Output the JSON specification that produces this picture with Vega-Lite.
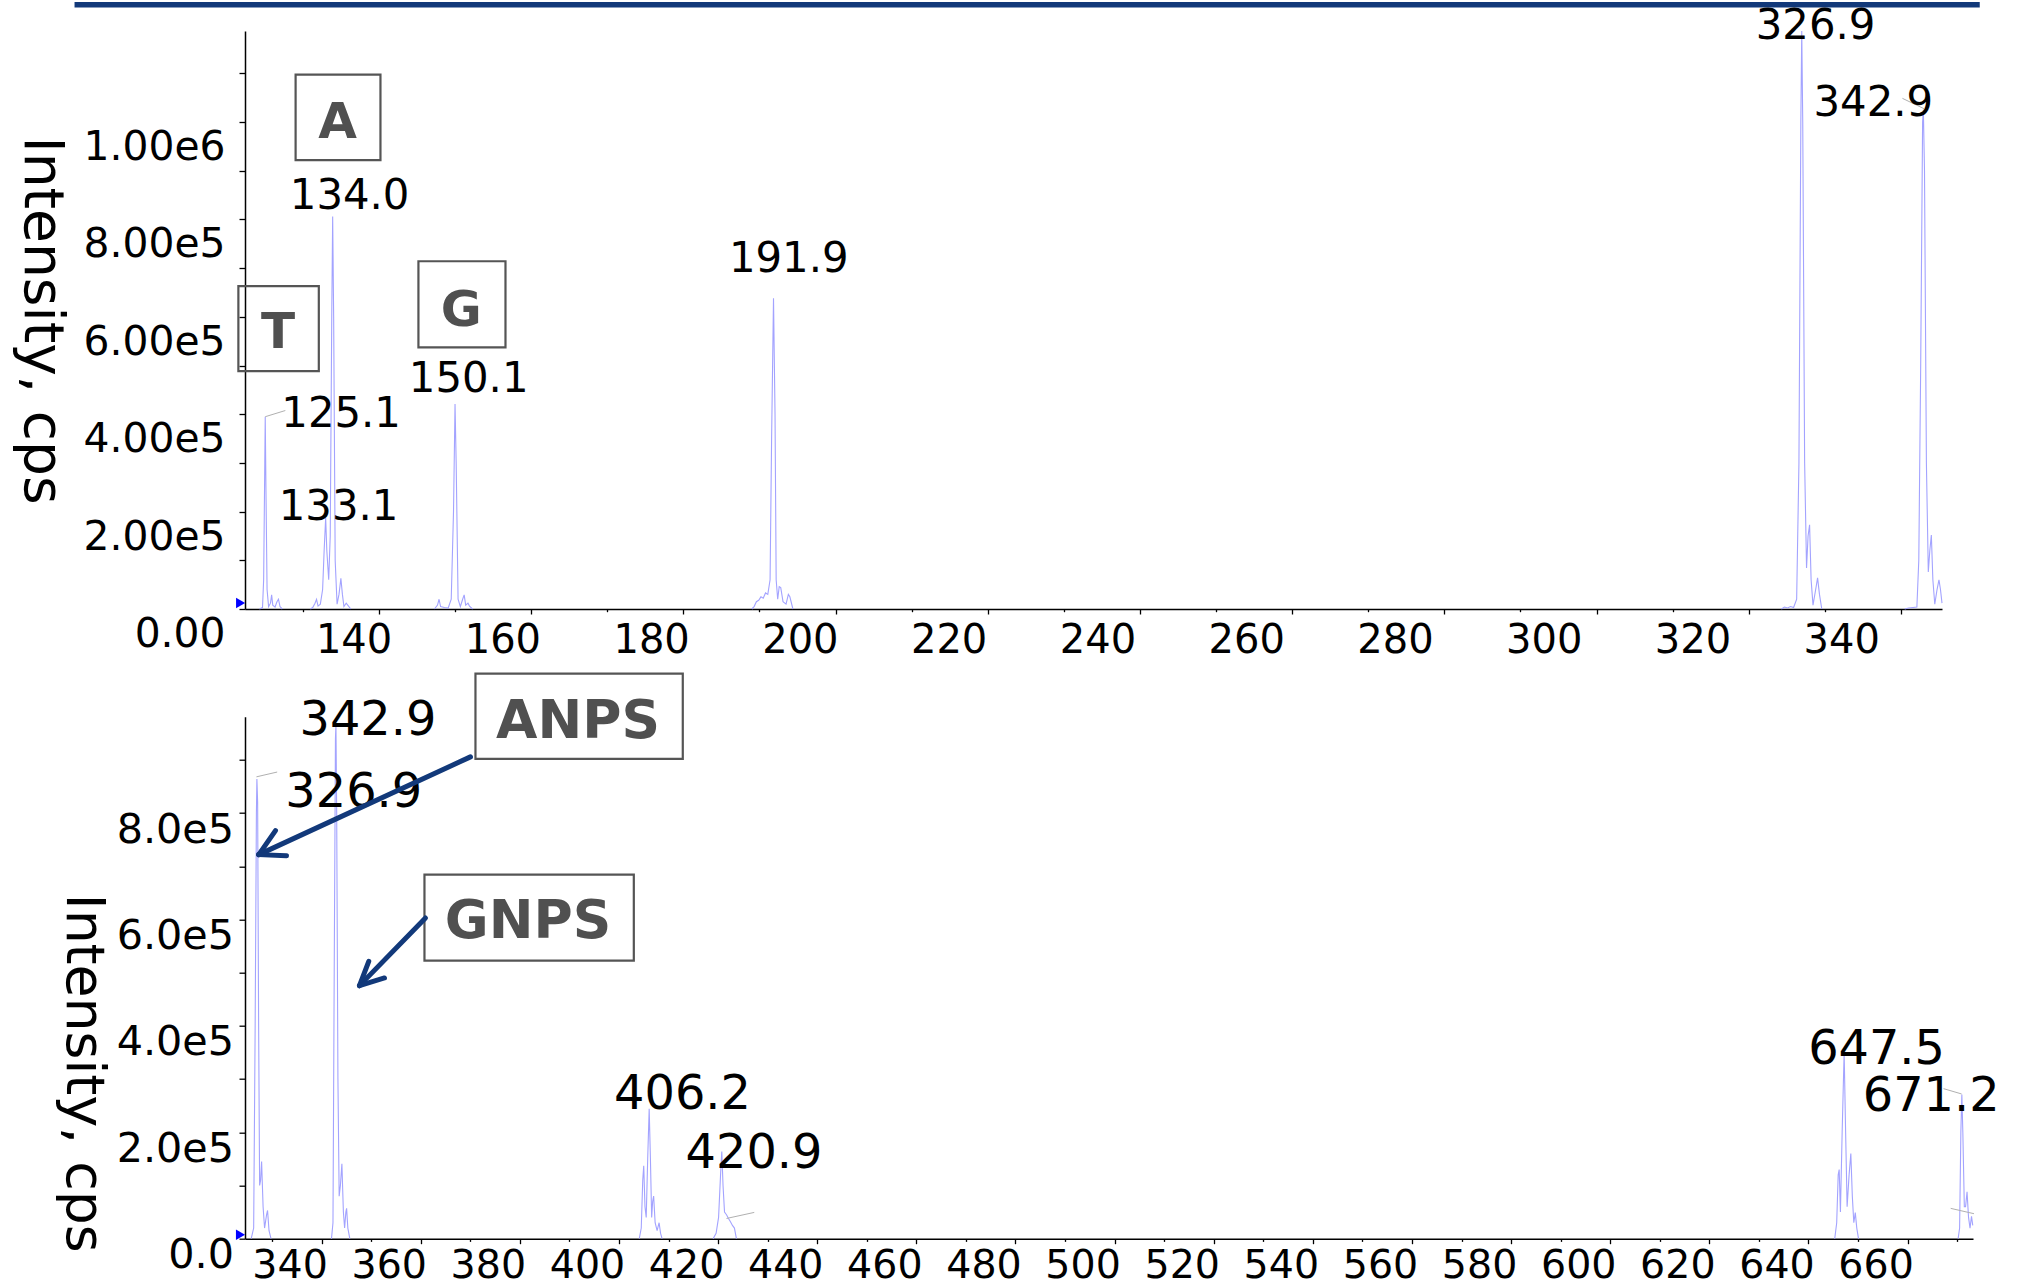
{
  "$schema": "https://vega.github.io/schema/vega-lite/v6.json",
  "autosize": "none",
  "padding": {"left": 245, "top": 31, "right": 1779, "bottom": 1256},
  "background": "white",
  "bounds": "flush",
  "spacing": 107.7,
  "config": {
    "font": "DejaVu Sans",
    "view": {"stroke": null},
    "axis": {"labelFont": "DejaVu Sans", "titleFont": "DejaVu Sans", "labelColor": "black", "titleColor": "black", "domainColor": "black", "tickColor": "black"}
  },
  "datasets": {
    "one": [{}],
    "spec_top": [
      {"c":"c125","mz":124.3,"i":0},{"c":"c125","mz":124.7,"i":3000},{"c":"c125","mz":124.85,"i":60000},{"c":"c125","mz":125.0,"i":300000},{"c":"c125","mz":125.06,"i":395000},{"c":"c125","mz":125.15,"i":250000},{"c":"c125","mz":125.3,"i":40000},{"c":"c125","mz":125.5,"i":5000},{"c":"c125","mz":125.75,"i":12000},{"c":"c125","mz":125.9,"i":29000},{"c":"c125","mz":126.05,"i":8000},{"c":"c125","mz":126.35,"i":4000},{"c":"c125","mz":126.6,"i":15000},{"c":"c125","mz":126.8,"i":20000},{"c":"c125","mz":127.0,"i":5000},{"c":"c125","mz":127.3,"i":0},
      {"c":"c134","mz":131.0,"i":0},{"c":"c134","mz":131.3,"i":3000},{"c":"c134","mz":131.6,"i":12000},{"c":"c134","mz":131.8,"i":20000},{"c":"c134","mz":132.0,"i":6000},{"c":"c134","mz":132.3,"i":10000},{"c":"c134","mz":132.6,"i":40000},{"c":"c134","mz":132.8,"i":120000},{"c":"c134","mz":133.0,"i":187000},{"c":"c134","mz":133.15,"i":120000},{"c":"c134","mz":133.4,"i":60000},{"c":"c134","mz":133.6,"i":150000},{"c":"c134","mz":133.8,"i":600000},{"c":"c134","mz":133.92,"i":806000},{"c":"c134","mz":134.05,"i":600000},{"c":"c134","mz":134.25,"i":100000},{"c":"c134","mz":134.5,"i":10000},{"c":"c134","mz":134.75,"i":30000},{"c":"c134","mz":135.0,"i":63000},{"c":"c134","mz":135.2,"i":30000},{"c":"c134","mz":135.4,"i":5000},{"c":"c134","mz":135.7,"i":12000},{"c":"c134","mz":135.9,"i":8000},{"c":"c134","mz":136.3,"i":0},
      {"c":"c150","mz":147.3,"i":0},{"c":"c150","mz":147.7,"i":8000},{"c":"c150","mz":147.9,"i":20000},{"c":"c150","mz":148.1,"i":5000},{"c":"c150","mz":148.6,"i":3000},{"c":"c150","mz":149.1,"i":2000},{"c":"c150","mz":149.5,"i":20000},{"c":"c150","mz":149.8,"i":200000},{"c":"c150","mz":150.0,"i":421000},{"c":"c150","mz":150.15,"i":300000},{"c":"c150","mz":150.4,"i":20000},{"c":"c150","mz":150.7,"i":5000},{"c":"c150","mz":151.0,"i":20000},{"c":"c150","mz":151.2,"i":29000},{"c":"c150","mz":151.4,"i":8000},{"c":"c150","mz":151.7,"i":12000},{"c":"c150","mz":151.9,"i":6000},{"c":"c150","mz":152.3,"i":0},
      {"c":"c192","mz":189.0,"i":0},{"c":"c192","mz":189.3,"i":5000},{"c":"c192","mz":189.6,"i":15000},{"c":"c192","mz":189.9,"i":18000},{"c":"c192","mz":190.2,"i":25000},{"c":"c192","mz":190.5,"i":22000},{"c":"c192","mz":190.8,"i":33000},{"c":"c192","mz":191.1,"i":30000},{"c":"c192","mz":191.4,"i":60000},{"c":"c192","mz":191.6,"i":350000},{"c":"c192","mz":191.85,"i":638000},{"c":"c192","mz":192.05,"i":400000},{"c":"c192","mz":192.2,"i":60000},{"c":"c192","mz":192.4,"i":20000},{"c":"c192","mz":192.6,"i":46000},{"c":"c192","mz":192.8,"i":44000},{"c":"c192","mz":193.1,"i":15000},{"c":"c192","mz":193.5,"i":10000},{"c":"c192","mz":193.8,"i":30000},{"c":"c192","mz":194.0,"i":25000},{"c":"c192","mz":194.4,"i":0},
      {"c":"c327","mz":324.3,"i":0},{"c":"c327","mz":324.7,"i":4000},{"c":"c327","mz":325.1,"i":2000},{"c":"c327","mz":325.5,"i":5000},{"c":"c327","mz":325.9,"i":3000},{"c":"c327","mz":326.3,"i":20000},{"c":"c327","mz":326.6,"i":300000},{"c":"c327","mz":326.85,"i":1000000},{"c":"c327","mz":326.97,"i":1187000},{"c":"c327","mz":327.1,"i":1000000},{"c":"c327","mz":327.35,"i":300000},{"c":"c327","mz":327.6,"i":84000},{"c":"c327","mz":327.8,"i":150000},{"c":"c327","mz":328.0,"i":173000},{"c":"c327","mz":328.2,"i":60000},{"c":"c327","mz":328.45,"i":8000},{"c":"c327","mz":328.8,"i":40000},{"c":"c327","mz":329.05,"i":64000},{"c":"c327","mz":329.3,"i":30000},{"c":"c327","mz":329.6,"i":0},
      {"c":"c343","mz":340.5,"i":0},{"c":"c343","mz":341.0,"i":2000},{"c":"c343","mz":341.6,"i":3000},{"c":"c343","mz":342.1,"i":4000},{"c":"c343","mz":342.35,"i":100000},{"c":"c343","mz":342.6,"i":500000},{"c":"c343","mz":342.85,"i":1000000},{"c":"c343","mz":342.95,"i":1025000},{"c":"c343","mz":343.1,"i":900000},{"c":"c343","mz":343.35,"i":300000},{"c":"c343","mz":343.6,"i":76000},{"c":"c343","mz":343.8,"i":120000},{"c":"c343","mz":344.0,"i":152000},{"c":"c343","mz":344.2,"i":60000},{"c":"c343","mz":344.45,"i":10000},{"c":"c343","mz":344.75,"i":40000},{"c":"c343","mz":345.0,"i":60000},{"c":"c343","mz":345.2,"i":40000},{"c":"c343","mz":345.4,"i":12000}
    ],
    "spec_bot": [
      {"c":"b327","mz":325.8,"i":0},{"c":"b327","mz":326.3,"i":20000},{"c":"b327","mz":326.6,"i":400000},{"c":"b327","mz":326.85,"i":800000},{"c":"b327","mz":326.95,"i":864000},{"c":"b327","mz":327.1,"i":820000},{"c":"b327","mz":327.3,"i":400000},{"c":"b327","mz":327.5,"i":100000},{"c":"b327","mz":327.7,"i":110000},{"c":"b327","mz":327.9,"i":145000},{"c":"b327","mz":328.2,"i":60000},{"c":"b327","mz":328.5,"i":20000},{"c":"b327","mz":328.9,"i":45000},{"c":"b327","mz":329.1,"i":53000},{"c":"b327","mz":329.4,"i":15000},{"c":"b327","mz":329.8,"i":0},
      {"c":"b343","mz":342.0,"i":0},{"c":"b343","mz":342.3,"i":30000},{"c":"b343","mz":342.55,"i":500000},{"c":"b343","mz":342.8,"i":940000},{"c":"b343","mz":342.9,"i":966000},{"c":"b343","mz":343.05,"i":800000},{"c":"b343","mz":343.3,"i":300000},{"c":"b343","mz":343.55,"i":80000},{"c":"b343","mz":343.8,"i":100000},{"c":"b343","mz":344.1,"i":141000},{"c":"b343","mz":344.4,"i":50000},{"c":"b343","mz":344.65,"i":20000},{"c":"b343","mz":344.9,"i":50000},{"c":"b343","mz":345.05,"i":57000},{"c":"b343","mz":345.3,"i":20000},{"c":"b343","mz":345.7,"i":0},
      {"c":"b406","mz":404.1,"i":0},{"c":"b406","mz":404.5,"i":20000},{"c":"b406","mz":404.8,"i":110000},{"c":"b406","mz":405.0,"i":137000},{"c":"b406","mz":405.25,"i":60000},{"c":"b406","mz":405.5,"i":40000},{"c":"b406","mz":405.8,"i":150000},{"c":"b406","mz":406.1,"i":244000},{"c":"b406","mz":406.35,"i":150000},{"c":"b406","mz":406.6,"i":40000},{"c":"b406","mz":406.8,"i":70000},{"c":"b406","mz":407.0,"i":80000},{"c":"b406","mz":407.3,"i":30000},{"c":"b406","mz":407.7,"i":15000},{"c":"b406","mz":408.1,"i":30000},{"c":"b406","mz":408.4,"i":10000},{"c":"b406","mz":408.7,"i":0},
      {"c":"b421","mz":419.0,"i":0},{"c":"b421","mz":419.6,"i":10000},{"c":"b421","mz":420.1,"i":40000},{"c":"b421","mz":420.5,"i":120000},{"c":"b421","mz":420.75,"i":164000},{"c":"b421","mz":421.0,"i":100000},{"c":"b421","mz":421.3,"i":50000},{"c":"b421","mz":421.7,"i":45000},{"c":"b421","mz":422.1,"i":38000},{"c":"b421","mz":422.5,"i":32000},{"c":"b421","mz":422.9,"i":25000},{"c":"b421","mz":423.3,"i":20000},{"c":"b421","mz":423.7,"i":0},
      {"c":"b647","mz":645.3,"i":0},{"c":"b647","mz":645.7,"i":30000},{"c":"b647","mz":646.0,"i":120000},{"c":"b647","mz":646.2,"i":130000},{"c":"b647","mz":646.45,"i":50000},{"c":"b647","mz":646.8,"i":200000},{"c":"b647","mz":647.2,"i":351000},{"c":"b647","mz":647.5,"i":200000},{"c":"b647","mz":647.8,"i":60000},{"c":"b647","mz":648.2,"i":120000},{"c":"b647","mz":648.55,"i":160000},{"c":"b647","mz":648.85,"i":80000},{"c":"b647","mz":649.15,"i":30000},{"c":"b647","mz":649.45,"i":49000},{"c":"b647","mz":649.75,"i":20000},{"c":"b647","mz":650.1,"i":0},
      {"c":"b671","mz":670.2,"i":0},{"c":"b671","mz":670.5,"i":20000},{"c":"b671","mz":670.75,"i":200000},{"c":"b671","mz":670.95,"i":271000},{"c":"b671","mz":671.15,"i":200000},{"c":"b671","mz":671.45,"i":60000},{"c":"b671","mz":671.7,"i":60000},{"c":"b671","mz":672.0,"i":88000},{"c":"b671","mz":672.3,"i":40000},{"c":"b671","mz":672.6,"i":20000},{"c":"b671","mz":672.9,"i":42000},{"c":"b671","mz":673.15,"i":25000}
    ],
    "peaks_top": [
      {"label":"134.0","lx":136.15,"ly":820500},
      {"label":"125.1","lx":135.03,"ly":373700},
      {"label":"133.1","lx":134.70,"ly":182100},
      {"label":"150.1","lx":151.79,"ly":446000},
      {"label":"191.9","lx":193.85,"ly":693000},
      {"label":"326.9","lx":328.78,"ly":1169600},
      {"label":"342.9","lx":336.37,"ly":1012300}
    ],
    "peaks_bot": [
      {"label":"342.9","lx":349.36,"ly":947400},
      {"label":"326.9","lx":346.5,"ly":811500},
      {"label":"406.2","lx":412.82,"ly":244400},
      {"label":"420.9","lx":427.25,"ly":133500},
      {"label":"647.5","lx":653.74,"ly":328000},
      {"label":"671.2","lx":664.76,"ly":240000}
    ],
    "leaders_top": [
      {"x":125.06,"y":394900,"x2":127.7,"y2":407600},
      {"x":340.2,"y":1048700,"x2":343.03,"y2":1027500}
    ],
    "leaders_bot": [
      {"x":326.86,"y":868000,"x2":331.04,"y2":877000},
      {"x":421.7,"y":38000,"x2":427.3,"y2":49400},
      {"x":667.26,"y":282000,"x2":670.9,"y2":272000},
      {"x":668.7,"y":57000,"x2":673.4,"y2":47000}
    ],
    "boxes_top": [
      {"label":"A","x":129.05,"x2":140.2,"y":922000,"y2":1097300,"lx":134.57,"ly":967100},
      {"label":"T","x":121.53,"x2":132.1,"y":488700,"y2":663200,"lx":126.73,"ly":535300},
      {"label":"G","x":145.19,"x2":156.63,"y":537200,"y2":714200,"lx":150.82,"ly":582100}
    ],
    "boxes_bot": [
      {"label":"ANPS","x":371.05,"x2":412.88,"y":901700,"y2":1062000,"lx":391.74,"ly":941000},
      {"label":"GNPS","x":360.76,"x2":403.0,"y":522600,"y2":684200,"lx":381.65,"ly":565200}
    ],
    "arrows": [
      {"x":370.04,"y":905500,"x2":327.33,"y2":721800},
      {"x":327.33,"y":721800,"x2":330.7,"y2":766900},
      {"x":327.33,"y":721800,"x2":332.92,"y2":719500},
      {"x":360.96,"y":602800,"x2":347.65,"y2":475600},
      {"x":347.65,"y":475600,"x2":349.52,"y2":521200},
      {"x":347.65,"y":475600,"x2":352.69,"y2":490000}
    ],
    "xlabels_top": [{"t":140},{"t":160},{"t":180},{"t":200},{"t":220},{"t":240},{"t":260},{"t":280},{"t":300},{"t":320},{"t":340}]
  },
  "vconcat": [
    {
      "width": 1697,
      "height": 578,
      "resolve": {"scale": {"x": "independent"}},
      "layer": [
        {
          "layer": [
            {
              "data": {"name": "spec_top"},
              "mark": {"type": "line", "color": "#a3a3ff", "strokeWidth": 1.1, "clip": false},
              "encoding": {
                "x": {"field": "mz", "type": "quantitative",
                  "scale": {"domain": [122.4, 345.4], "nice": false, "zero": false},
                  "axis": {"orient": "bottom", "values": [130,140,150,160,170,180,190,200,210,220,230,240,250,260,270,280,290,300,310,320,330,340],
                    "labels": false, "title": null, "grid": false, "domainWidth": 1.5, "tickWidth": 1.3,
                    "tickSize": {"condition": {"test": "datum.value % 20 === 0", "value": 5}, "value": 2.7}}},
                "y": {"field": "i", "type": "quantitative",
                  "scale": {"domain": [0, 1187000], "nice": false, "zero": true},
                  "axis": {"values": [0,50000,100000,150000,200000,250000,300000,350000,400000,450000,500000,550000,600000,650000,700000,750000,800000,850000,900000,950000,1000000,1050000,1100000,1150000],
                    "labelExpr": "datum.value % 200000 === 0 ? (datum.value === 0 ? '0.00' : replace(format(datum.value, '.2e'), 'e+', 'e')) : ''",
                    "labelFontSize": 40.8, "labelOffset": 25.5, "labelPadding": 14, "labelOverlap": false, "labelBound": false, "labelFlush": false,
                    "grid": false, "domainWidth": 1.5, "tickWidth": 1.3,
                    "tickSize": {"condition": {"test": "datum.value % 100000 === 0", "value": 6}, "value": 3.3},
                    "title": "Intensity, cps", "titleFontSize": 55, "titleFontWeight": "normal", "titleAngle": 90,
                    "titleAlign": "center", "titleBaseline": "middle", "titleX": -204, "titleY": 289}},
                "detail": {"field": "c"}
              }
            },
            {
              "data": {"name": "one"},
              "mark": {"type": "rule", "color": "#12397a", "strokeWidth": 5.5, "clip": false},
              "encoding": {"x": {"datum": 100.0}, "x2": {"datum": 350.36}, "y": {"datum": 1240800}}
            },
            {
              "data": {"name": "leaders_top"},
              "mark": {"type": "rule", "color": "#b0b0b0", "strokeWidth": 1, "clip": false},
              "encoding": {"x": {"field": "x", "type": "quantitative"}, "y": {"field": "y", "type": "quantitative"}, "x2": {"field": "x2"}, "y2": {"field": "y2"}}
            },
            {
              "data": {"name": "peaks_top"},
              "mark": {"type": "text", "fontSize": 41.8, "font": "DejaVu Sans", "color": "black", "align": "center", "baseline": "alphabetic", "clip": false},
              "encoding": {"x": {"field": "lx", "type": "quantitative"}, "y": {"field": "ly", "type": "quantitative"}, "text": {"field": "label"}}
            },
            {
              "data": {"name": "boxes_top"},
              "mark": {"type": "rect", "filled": false, "stroke": "#555555", "strokeWidth": 2.2, "clip": false},
              "encoding": {"x": {"field": "x", "type": "quantitative"}, "x2": {"field": "x2"}, "y": {"field": "y", "type": "quantitative"}, "y2": {"field": "y2"}}
            },
            {
              "data": {"name": "boxes_top"},
              "mark": {"type": "text", "fontSize": 50, "fontWeight": "bold", "font": "DejaVu Sans", "color": "#505050", "align": "center", "baseline": "alphabetic", "clip": false},
              "encoding": {"x": {"field": "lx", "type": "quantitative"}, "y": {"field": "ly", "type": "quantitative"}, "text": {"field": "label"}}
            },
            {
              "data": {"name": "one"},
              "mark": {"type": "point", "shape": "triangle-right", "filled": true, "color": "#0000ff", "size": 110, "opacity": 1, "clip": false},
              "encoding": {"x": {"datum": 121.82}, "y": {"datum": 12300}}
            }
          ]
        },
        {
          "data": {"name": "xlabels_top"},
          "mark": {"type": "rule", "opacity": 0},
          "encoding": {
            "x": {"field": "t", "type": "quantitative",
              "scale": {"domain": [125.4, 353.55], "nice": false, "zero": false},
              "axis": {"orient": "bottom", "values": [140,160,180,200,220,240,260,280,300,320,340],
                "domain": false, "ticks": false, "tickSize": 0, "labelFontSize": 40, "labelPadding": 11,
                "title": null, "grid": false, "labelOverlap": false, "labelFlush": false, "labelBound": false}}
          }
        }
      ]
    },
    {
      "width": 1728,
      "height": 522,
      "layer": [
        {
          "data": {"name": "spec_bot"},
          "mark": {"type": "line", "color": "#a3a3ff", "strokeWidth": 1.1, "clip": false},
          "encoding": {
            "x": {"field": "mz", "type": "quantitative",
              "scale": {"domain": [324.55, 673.2], "nice": false, "zero": false},
              "axis": {"values": [330,340,350,360,370,380,390,400,410,420,430,440,450,460,470,480,490,500,510,520,530,540,550,560,570,580,590,600,610,620,630,640,650,660,670],
                "labelExpr": "datum.value % 20 === 0 ? datum.label : ''",
                "labelFontSize": 39.5, "labelOffset": -32, "labelPadding": 2.5, "labelOverlap": false, "labelBound": false, "labelFlush": false,
                "title": null, "grid": false, "domainWidth": 1.5, "tickWidth": 1.3,
                "tickSize": {"condition": {"test": "datum.value % 20 === 0", "value": 5}, "value": 2.7}}},
            "y": {"field": "i", "type": "quantitative",
              "scale": {"domain": [0, 981000], "nice": false, "zero": true},
              "axis": {"values": [0,50000,100000,150000,200000,250000,300000,350000,400000,450000,500000,550000,600000,650000,700000,750000,800000,850000,900000,950000],
                "labelExpr": "datum.value % 200000 === 0 ? (datum.value === 0 ? '0.0' : replace(format(datum.value, '.1e'), 'e+', 'e')) : ''",
                "labelFontSize": 41.3, "labelOffset": 17, "labelPadding": 5.5, "labelOverlap": false, "labelBound": false, "labelFlush": false,
                "grid": false, "domainWidth": 1.5, "tickWidth": 1.3,
                "tickSize": {"condition": {"test": "datum.value % 100000 === 0", "value": 6}, "value": 3.3},
                "title": "Intensity, cps", "titleFontSize": 53.6, "titleFontWeight": "normal", "titleAngle": 90,
                "titleAlign": "center", "titleBaseline": "middle", "titleX": -163, "titleY": 356}},
            "detail": {"field": "c"}
          }
        },
        {
          "data": {"name": "leaders_bot"},
          "mark": {"type": "rule", "color": "#b0b0b0", "strokeWidth": 1, "clip": false},
          "encoding": {"x": {"field": "x", "type": "quantitative"}, "y": {"field": "y", "type": "quantitative"}, "x2": {"field": "x2"}, "y2": {"field": "y2"}}
        },
        {
          "data": {"name": "peaks_bot"},
          "mark": {"type": "text", "fontSize": 47.8, "font": "DejaVu Sans", "color": "black", "align": "center", "baseline": "alphabetic", "clip": false},
          "encoding": {"x": {"field": "lx", "type": "quantitative"}, "y": {"field": "ly", "type": "quantitative"}, "text": {"field": "label"}}
        },
        {
          "data": {"name": "boxes_bot"},
          "mark": {"type": "rect", "filled": false, "stroke": "#555555", "strokeWidth": 2.2, "clip": false},
          "encoding": {"x": {"field": "x", "type": "quantitative"}, "x2": {"field": "x2"}, "y": {"field": "y", "type": "quantitative"}, "y2": {"field": "y2"}}
        },
        {
          "data": {"name": "boxes_bot"},
          "mark": {"type": "text", "fontSize": 53.5, "fontWeight": "bold", "font": "DejaVu Sans", "color": "#505050", "align": "center", "baseline": "alphabetic", "clip": false},
          "encoding": {"x": {"field": "lx", "type": "quantitative"}, "y": {"field": "ly", "type": "quantitative"}, "text": {"field": "label"}}
        },
        {
          "data": {"name": "arrows"},
          "mark": {"type": "rule", "color": "#12397a", "strokeWidth": 5, "strokeCap": "round", "clip": false},
          "encoding": {"x": {"field": "x", "type": "quantitative"}, "y": {"field": "y", "type": "quantitative"}, "x2": {"field": "x2"}, "y2": {"field": "y2"}}
        },
        {
          "data": {"name": "one"},
          "mark": {"type": "point", "shape": "triangle-right", "filled": true, "color": "#0000ff", "size": 110, "opacity": 1, "clip": false},
          "encoding": {"x": {"datum": 323.64}, "y": {"datum": 7500}}
        }
      ]
    }
  ]
}
